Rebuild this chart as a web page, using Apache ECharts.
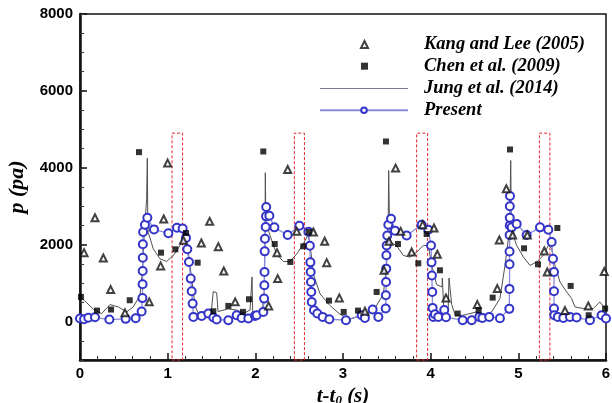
<!DOCTYPE html>
<html>
<head>
<meta charset="utf-8">
<script src="https://cdn.jsdelivr.net/npm/echarts@6/dist/echarts.min.js"></script>
<style>
  html, body { margin: 0; padding: 0; background: #fff; }
</style>
</head>
<body>
<div id="pressureChart" style="width: 612px; height: 403px;"></div>
<script>
// series names
var names = ['Kang and Lee (2005)', 'Chen et al. (2009)', 'Jung et al. (2014)', 'Present']

// [t - t0 (s), p (pa)]
var kangLee = [
  [0.046, 1792], [0.171, 2701], [0.266, 1654], [0.35, 831], [0.513, 226], [0.79, 512],
  [0.92, 1447], [0.955, 2667], [1.0, 4122], [1.18, 2112], [1.384, 2044], [1.479, 2606],
  [1.578, 1948], [1.64, 1316], [1.77, 512], [2.152, 407], [2.247, 1792], [2.255, 1117],
  [2.369, 3957], [2.472, 2346], [2.662, 2329], [2.791, 2087], [2.814, 1532], [2.958, 615],
  [3.25, 268], [3.468, 1333], [3.525, 2087], [3.6, 3991], [3.658, 2346], [3.783, 1810],
  [3.909, 2520], [4.038, 2433], [4.076, 1749], [4.175, 615], [4.532, 441], [4.76, 857],
  [4.783, 2121], [4.863, 3454], [4.935, 2251], [5.102, 2251], [5.296, 1835], [5.33, 1290],
  [5.532, 285], [5.798, 407], [5.98, 1300]
]

var chen = [
  [0.011, 641], [0.194, 285], [0.354, 312], [0.567, 554], [0.673, 4407], [0.924, 1792],
  [1.088, 1879], [1.209, 2303], [1.342, 1532], [1.521, 268], [1.692, 407], [1.859, 251],
  [1.928, 580], [2.091, 4424], [2.221, 2017], [2.399, 1550], [2.547, 1957], [2.608, 2329],
  [2.84, 545], [3.008, 251], [3.171, 285], [3.384, 770], [3.49, 4684], [3.627, 2017],
  [3.859, 1515], [3.954, 2277], [4.106, 1333], [4.308, 208], [4.547, 294], [4.707, 623],
  [4.905, 4476], [5.065, 1905], [5.224, 1489], [5.445, 2433], [5.597, 927], [5.802, 164],
  [5.99, 338]
]

var jung = [
  [0, 641], [0.076, 493], [0.152, 320], [0.247, 208], [0.342, 441], [0.437, 381], [0.532, 251],
  [0.608, 381], [0.684, 684], [0.715, 1376], [0.73, 2155], [0.76, 3200], [0.768, 4251],
  [0.773, 2700], [0.779, 2320], [0.836, 1890], [0.913, 1631], [0.989, 1563], [1.065, 1719],
  [1.141, 1978], [1.186, 2155], [1.236, 1801], [1.274, 1108], [1.312, 416], [1.35, 208],
  [1.45, 251], [1.5, 300], [1.52, 780], [1.559, 750], [1.575, 260], [1.692, 330], [1.787, 300],
  [1.87, 220], [1.94, 300], [1.962, 1160], [1.97, 250], [2.03, 220], [2.08, 300], [2.1, 700],
  [2.11, 2000], [2.114, 3870], [2.12, 2600], [2.167, 2242], [2.243, 1753], [2.319, 1562],
  [2.395, 1562], [2.471, 1753], [2.547, 2017], [2.6, 2250], [2.624, 2017], [2.661, 1238],
  [2.738, 719], [2.852, 415], [2.966, 190], [3.08, 60], [3.194, 147], [3.345, 277], [3.46, 710],
  [3.498, 1490], [3.515, 2500], [3.521, 3930], [3.53, 2600], [3.544, 2060], [3.612, 1970],
  [3.688, 1720], [3.764, 1675], [3.84, 1805], [3.916, 1978], [3.973, 1978], [4.011, 1477],
  [4.068, 960], [4.13, 900], [4.133, 1132], [4.15, 330], [4.2, 330], [4.209, 1132], [4.24, 441],
  [4.28, 164], [4.37, 164], [4.525, 251], [4.6, 164], [4.696, 251], [4.79, 597], [4.848, 1460],
  [4.9, 2400], [4.913, 4190], [4.92, 2700], [4.928, 2330], [4.981, 1980], [5.057, 1680],
  [5.133, 1460], [5.209, 1550], [5.285, 1720], [5.342, 1980], [5.38, 1900], [5.418, 1460],
  [5.475, 1030], [5.551, 770], [5.608, 600], [5.646, 380], [5.741, 340], [5.855, 340],
  [5.93, 510], [5.99, 340]
]

var present = [
  [0.0, 80], [0.046, 60], [0.095, 100], [0.171, 110], [0.335, 52], [0.521, 70], [0.635, 87],
  [0.703, 260], [0.712, 610], [0.714, 970], [0.715, 1315], [0.716, 1662], [0.717, 2010],
  [0.72, 2330], [0.741, 2520], [0.768, 2700], [0.844, 2397], [1.008, 2295], [1.106, 2440],
  [1.171, 2420], [1.209, 2176], [1.224, 1880], [1.243, 1550], [1.263, 1117], [1.274, 787],
  [1.285, 467], [1.293, 121], [1.388, 147], [1.464, 208], [1.521, 104], [1.559, 52],
  [1.692, 35], [1.787, 165], [1.844, 95], [1.92, 80], [1.996, 147], [2.015, 165], [2.091, 251],
  [2.1, 597], [2.103, 943], [2.105, 1290], [2.107, 1826], [2.11, 2155], [2.118, 2459],
  [2.122, 2736], [2.124, 2978], [2.16, 2753], [2.217, 2450], [2.369, 2252], [2.502, 2494],
  [2.605, 2338], [2.622, 1970], [2.628, 1540], [2.631, 1290], [2.635, 1030], [2.638, 770],
  [2.643, 510], [2.669, 294], [2.707, 208], [2.768, 121], [2.844, 60], [3.034, 35],
  [3.213, 165], [3.25, 95], [3.338, 312], [3.403, 121], [3.487, 338], [3.489, 684],
  [3.491, 1030], [3.493, 1376], [3.495, 1723], [3.498, 1978], [3.505, 2240], [3.517, 2520],
  [3.548, 2675], [3.593, 2365], [3.726, 2240], [3.897, 2520], [3.973, 2390], [4.004, 1978],
  [4.01, 1540], [4.014, 1200], [4.018, 770], [4.022, 355], [4.03, 121], [4.049, 190],
  [4.087, 121], [4.155, 300], [4.175, 110], [4.365, 35], [4.468, 35], [4.555, 121],
  [4.59, 95], [4.668, 121], [4.79, 87], [4.897, 330], [4.899, 850], [4.9, 1490], [4.9, 1820],
  [4.901, 2250], [4.902, 2500], [4.902, 2700], [4.903, 3000], [4.905, 3265], [4.924, 2450],
  [4.981, 2540], [5.095, 2252], [5.247, 2450], [5.342, 2390], [5.38, 2070], [5.395, 1635],
  [5.407, 1290], [5.407, 790], [5.407, 340], [5.41, 164], [5.45, 121], [5.513, 95],
  [5.589, 121], [5.665, 104], [5.817, 35], [5.95, 165], [6.0, 78]
]

// red dashed windows: [t start, t end]
var windows = [[1.05, 1.17], [2.445, 2.56], [3.84, 3.965], [5.24, 5.36]]
var windowTop = 4900

var yLabels = [0, 2000, 4000, 6000, 8000]

var serifFont = '"Liberation Serif", "Times New Roman", serif'
var sansFont = '"Liberation Sans", Arial, sans-serif'

var dom = document.getElementById('pressureChart')
var myChart = echarts.init(dom, null, { renderer: 'canvas' })

var areas = windows.map(function (w) {
  return [{ xAxis: w[0], yAxis: -1000 }, { xAxis: w[1], yAxis: windowTop }]
})

var legendText = {
  fontFamily: serifFont,
  fontStyle: 'italic',
  fontWeight: 'bold',
  fontSize: 18.5,
  color: '#000',
  lineHeight: 15
}

var option = {
  animation: false,
  backgroundColor: '#fff',
  grid: {
    left: 80,
    right: 6,
    top: 14,
    bottom: 43,
    outerBoundsMode: 'none',
    show: true,
    borderColor: '#111',
    borderWidth: 1.5,
    backgroundColor: 'transparent'
  },
  legend: [
    {
      // marker-only entries
      data: [names[0], names[1]],
      orient: 'vertical',
      left: 355,
      top: 30,
      itemWidth: 7,
      itemHeight: 7,
      itemGap: 2.7,
      align: 'left',
      textStyle: Object.assign({ padding: [0, 0, 0, 51] }, legendText)
    },
    {
      // line entries
      data: [
        { name: names[2], icon: 'path://M0,0H88V1.2H0Z' },
        { name: names[3] }
      ],
      orient: 'vertical',
      left: 314,
      top: 74,
      itemWidth: 88,
      itemHeight: 7,
      itemGap: 2.7,
      align: 'left',
      textStyle: Object.assign({ padding: [0, 0, 0, 11] }, legendText)
    }
  ],
  xAxis: {
    type: 'value',
    min: 0,
    max: 6,
    interval: 1,
    name: 't-t{sub|0} (s)',
    nameLocation: 'middle',
    nameGap: 13,
    nameTextStyle: {
      fontFamily: serifFont,
      fontStyle: 'italic',
      fontWeight: 'bold',
      fontSize: 21,
      color: '#000',
      rich: {
        sub: {
          fontFamily: serifFont,
          fontStyle: 'italic',
          fontWeight: 'bold',
          fontSize: 13,
          verticalAlign: 'bottom',
          padding: [6, 0, 0, 0]
        }
      }
    },
    axisLine: { show: true, onZero: false, lineStyle: { color: '#111', width: 2.5 } },
    axisTick: { show: true, inside: true, length: 7, lineStyle: { color: '#111', width: 1.5 } },
    minorTick: { show: true, splitNumber: 5, length: 4, lineStyle: { color: '#333', width: 1 } },
    splitLine: { show: false },
    axisLabel: {
      color: '#000',
      fontFamily: sansFont,
      fontWeight: 'bold',
      fontSize: 15,
      margin: 6
    }
  },
  yAxis: [
    {
      type: 'value',
      min: -1000,
      max: 8000,
      interval: 500,
      name: 'p (pa)',
      nameLocation: 'middle',
      nameGap: 52,
      nameTextStyle: {
        fontFamily: serifFont,
        fontStyle: 'italic',
        fontWeight: 'bold',
        fontSize: 22,
        color: '#000'
      },
      axisLine: { show: true, onZero: false, lineStyle: { color: '#111', width: 2.5 } },
      axisTick: { show: true, inside: true, length: 7, customValues: yLabels, lineStyle: { color: '#111', width: 1.5 } },
      splitLine: { show: false },
      axisLabel: {
        customValues: yLabels,
        formatter: function (v) { return String(v) },
        color: '#000',
        fontFamily: sansFont,
        fontWeight: 'bold',
        fontSize: 15,
        margin: 7
      }
    },
    {
      // minor ticks every 500 pa
      type: 'value',
      min: -1000,
      max: 8000,
      interval: 500,
      position: 'left',
      axisLine: { show: false },
      axisTick: { show: true, inside: true, length: 4, lineStyle: { color: '#333', width: 1 } },
      axisLabel: { show: false },
      splitLine: { show: false }
    }
  ],
  series: [
    {
      name: names[2],
      type: 'line',
      data: jung,
      showSymbol: false,
      symbol: 'none',
      lineStyle: { color: '#505050', width: 1 },
      itemStyle: { color: '#7a7a9a' },
      z: 2,
      markArea: {
        silent: true,
        itemStyle: {
          color: 'rgba(0,0,0,0)',
          borderColor: '#e0262a',
          borderWidth: 1,
          borderType: [3, 2]
        },
        data: areas
      }
    },
    {
      name: names[3],
      type: 'line',
      data: present,
      symbol: 'emptyCircle',
      symbolSize: 8,
      lineStyle: { color: '#8a8ad8', width: 1.3 },
      itemStyle: { color: '#3434c8', borderWidth: 1.1 },
      z: 3
    },
    {
      name: names[0],
      type: 'scatter',
      data: kangLee,
      symbol: 'emptyTriangle',
      symbolSize: 7,
      itemStyle: { color: '#111', borderWidth: 1 },
      z: 4
    },
    {
      name: names[1],
      type: 'scatter',
      data: chen,
      symbol: 'rect',
      symbolSize: 6,
      itemStyle: { color: '#000' },
      z: 5
    }
  ]
}

if (option && typeof option === 'object') {
  myChart.setOption(option, true)
}
</script>
</body>
</html>
